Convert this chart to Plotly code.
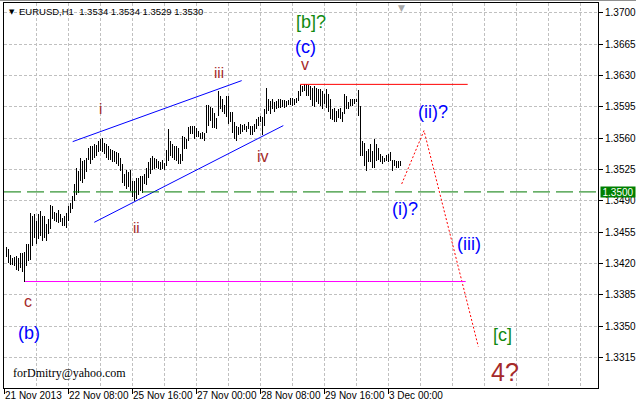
import numpy as np
import plotly.graph_objects as go

# ---------------- data (EURUSD H1) ----------------
highs = [
    1.3439, 1.3436, 1.3430, 1.3426, 1.3427, 1.3429, 1.3426, 1.3432, 1.3432, 1.3433,
    1.3442, 1.3442, 1.3476, 1.3473, 1.3475, 1.3468, 1.3475, 1.3479, 1.3473, 1.3473,
    1.3464, 1.3470, 1.3485, 1.3484, 1.3478, 1.3476, 1.3480, 1.3475, 1.3471, 1.3473,
    1.3477, 1.3484, 1.3488, 1.3496, 1.3509, 1.3527, 1.3523, 1.3538, 1.3535, 1.3536,
    1.3538, 1.3549, 1.3551, 1.3551, 1.3553, 1.3552, 1.3557, 1.3559, 1.3560, 1.3555,
    1.3553, 1.3551, 1.3548, 1.3547, 1.3546, 1.3544, 1.3543, 1.3538, 1.3531, 1.3520,
    1.3525, 1.3522, 1.3525, 1.3512, 1.3512, 1.3516, 1.3515, 1.3518, 1.3518, 1.3520,
    1.3527, 1.3533, 1.3538, 1.3540, 1.3538, 1.3537, 1.3534, 1.3533, 1.3536, 1.3532,
    1.3547, 1.3570, 1.3557, 1.3553, 1.3551, 1.3551, 1.3549, 1.3542, 1.3562, 1.3561,
    1.3559, 1.3572, 1.3574, 1.3574, 1.3574, 1.3571, 1.3568, 1.3566, 1.3567, 1.3566,
    1.3597, 1.3597, 1.3595, 1.3594, 1.3588, 1.3583, 1.3613, 1.3607, 1.3604, 1.3597,
    1.3607, 1.3607, 1.3589, 1.3589, 1.3578, 1.3574, 1.3572, 1.3576, 1.3575, 1.3576,
    1.3574, 1.3578, 1.3574, 1.3574, 1.3576, 1.3581, 1.3584, 1.3585, 1.3584, 1.3592,
    1.3616, 1.3604, 1.3601, 1.3604, 1.3600, 1.3601, 1.3604, 1.3604, 1.3603, 1.3603,
    1.3601, 1.3603, 1.3605, 1.3605, 1.3604, 1.3605, 1.3613, 1.3619, 1.3618, 1.3620,
    1.3620, 1.3619, 1.3618, 1.3616, 1.3618, 1.3616, 1.3615, 1.3615, 1.3613, 1.3609,
    1.3615, 1.3609, 1.3604, 1.3592, 1.3594, 1.3590, 1.3592, 1.3594, 1.3589, 1.3609,
    1.3607, 1.3600, 1.3604, 1.3604, 1.3604, 1.3604, 1.3614, 1.3596, 1.3557, 1.3555,
    1.3546, 1.3548, 1.3553, 1.3546, 1.3559, 1.3553, 1.3549, 1.3542, 1.3540, 1.3538,
    1.3541, 1.3542, 1.3544, 1.3536, 1.3536, 1.3535, 1.3535, 1.3534,
]
lows = [
    1.3427, 1.3421, 1.3419, 1.3419, 1.3417, 1.3413, 1.3412, 1.3415, 1.3411, 1.3400,
    1.3417, 1.3423, 1.3424, 1.3440, 1.3449, 1.3442, 1.3447, 1.3451, 1.3445, 1.3449,
    1.3445, 1.3453, 1.3459, 1.3470, 1.3468, 1.3466, 1.3465, 1.3466, 1.3462, 1.3462,
    1.3460, 1.3468, 1.3476, 1.3481, 1.3490, 1.3497, 1.3499, 1.3512, 1.3510, 1.3514,
    1.3522, 1.3536, 1.3531, 1.3536, 1.3538, 1.3540, 1.3544, 1.3546, 1.3545, 1.3542,
    1.3538, 1.3536, 1.3536, 1.3533, 1.3533, 1.3531, 1.3529, 1.3523, 1.3510, 1.3507,
    1.3503, 1.3505, 1.3501, 1.3494, 1.3490, 1.3492, 1.3497, 1.3501, 1.3499, 1.3509,
    1.3508, 1.3515, 1.3520, 1.3524, 1.3526, 1.3527, 1.3526, 1.3525, 1.3526, 1.3525,
    1.3529, 1.3535, 1.3540, 1.3538, 1.3536, 1.3535, 1.3531, 1.3531, 1.3535, 1.3548,
    1.3548, 1.3557, 1.3565, 1.3565, 1.3559, 1.3561, 1.3561, 1.3559, 1.3559, 1.3557,
    1.3566, 1.3574, 1.3579, 1.3571, 1.3571, 1.3570, 1.3585, 1.3593, 1.3589, 1.3587,
    1.3584, 1.3576, 1.3578, 1.3566, 1.3559, 1.3557, 1.3563, 1.3565, 1.3567, 1.3569,
    1.3567, 1.3570, 1.3563, 1.3563, 1.3567, 1.3570, 1.3574, 1.3578, 1.3564, 1.3574,
    1.3587, 1.3590, 1.3587, 1.3592, 1.3589, 1.3592, 1.3594, 1.3594, 1.3595, 1.3594,
    1.3595, 1.3597, 1.3597, 1.3596, 1.3597, 1.3599, 1.3601, 1.3607, 1.3612, 1.3613,
    1.3607, 1.3607, 1.3603, 1.3596, 1.3595, 1.3600, 1.3598, 1.3596, 1.3593, 1.3598,
    1.3594, 1.3589, 1.3581, 1.3580, 1.3578, 1.3578, 1.3583, 1.3581, 1.3578, 1.3587,
    1.3592, 1.3592, 1.3596, 1.3596, 1.3598, 1.3600, 1.3585, 1.3540, 1.3540, 1.3529,
    1.3523, 1.3533, 1.3533, 1.3527, 1.3527, 1.3535, 1.3536, 1.3533, 1.3531, 1.3533,
    1.3535, 1.3533, 1.3535, 1.3523, 1.3529, 1.3527, 1.3527, 1.3529,
]
bar_index = list(range(1, len(highs) + 1))

time_tick_index = [0, 32, 64, 96, 128, 160, 192]
time_tick_labels = ["21 Nov 2013", "22 Nov 08:00", "25 Nov 16:00", "27 Nov 00:00",
                    "28 Nov 08:00", "29 Nov 16:00", "3 Dec 00:00"]
price_ticks = [1.3315, 1.3350, 1.3385, 1.3420, 1.3455, 1.3490, 1.3525,
               1.3560, 1.3595, 1.3630, 1.3665, 1.3700]
current_level = 1.3500
header_text = "EURUSD,H1  1.3534 1.3534 1.3529 1.3530"

# analyst drawings (bar index, price)
upper_channel_x = [34.1, 118.6]
upper_channel_y = [1.35561, 1.36242]
lower_channel_x = [44.9, 139.4]
lower_channel_y = [1.34661, 1.35740]
resistance_x = [147.8, 231.6]
resistance_level = 1.3620
support_x = [10.3, 230.6]
support_level = 1.3400
forecast_x = [198.6, 209.75, 236.9]
forecast_y = [1.35089, 1.35684, 1.33274]

BLUE = "#0000FF"
BROWN = "#A52A2A"
GREEN = "#118A11"
wave_labels = [
    ("[b]?", 153.0, 1.36892, GREEN, 18),
    ("(c)", 150.5, 1.36621, BLUE, 18),
    ("v", 150.0, 1.36420, BROWN, 16),
    ("iii", 107.0, 1.36331, BROWN, 15),
    ("i", 48.0, 1.35935, BROWN, 15),
    ("ii", 66.0, 1.34607, BROWN, 15),
    ("iv", 129.25, 1.35390, BROWN, 16),
    ("c", 11.5, 1.33780, BROWN, 16),
    ("(b)", 12.0, 1.33424, BLUE, 18),
    ("(ii)?", 214.0, 1.35891, BLUE, 18),
    ("(i)?", 200.0, 1.34808, BLUE, 18),
    ("(iii)", 232.25, 1.34423, BLUE, 18),
    ("[c]", 249.0, 1.33408, GREEN, 18),
    ("4?", 250.25, 1.32995, BROWN, 25),
]

# ---------------- figure ----------------
FONT = "Liberation Sans, Arial, sans-serif"
GRID = "#C0C0C0"

hi = np.array(highs)
lo = np.array(lows)

fig = go.Figure()
fig.add_trace(go.Bar(
    x=bar_index, y=hi - lo, base=lows, width=0.5,
    marker=dict(color="black", line=dict(width=0)),
    hoverinfo="skip",
))

fig.add_trace(go.Scatter(
    x=forecast_x, y=forecast_y, mode="lines",
    line=dict(color="#FF0000", width=1, dash="2px,2px"),
    hoverinfo="skip",
))

shapes = [
    dict(type="line", xref="x", yref="y", x0=upper_channel_x[0], x1=upper_channel_x[1],
         y0=upper_channel_y[0], y1=upper_channel_y[1], line=dict(color=BLUE, width=1)),
    dict(type="line", xref="x", yref="y", x0=lower_channel_x[0], x1=lower_channel_x[1],
         y0=lower_channel_y[0], y1=lower_channel_y[1], line=dict(color=BLUE, width=1)),
    dict(type="line", xref="x", yref="y", x0=resistance_x[0], x1=resistance_x[1],
         y0=resistance_level, y1=resistance_level, line=dict(color="#FF0000", width=1)),
    dict(type="line", xref="x", yref="y", x0=support_x[0], x1=support_x[1],
         y0=support_level, y1=support_level, line=dict(color="#FF00FF", width=1)),
    dict(type="line", xref="paper", yref="y", x0=0, x1=1,
         y0=current_level, y1=current_level,
         line=dict(color="#007800", width=1, dash="17px,6px")),
    # window frame line
    dict(type="line", xref="paper", yref="paper", x0=-4 / 594, x1=632 / 594,
         y0=1 + 2.5 / 385, y1=1 + 2.5 / 385, line=dict(color="#909090", width=1)),
]

annotations = []
for txt, xi, yp, col, sz in wave_labels:
    annotations.append(dict(x=xi, y=yp, xref="x", yref="y", text=txt, showarrow=False,
                            font=dict(family=FONT, size=sz, color=col),
                            xanchor="center", yanchor="middle"))

for xi, lab in zip(time_tick_index, time_tick_labels):
    annotations.append(dict(x=xi, y=0, xref="x", yref="paper", text=lab, showarrow=False,
                            font=dict(family=FONT, size=10, color="black"),
                            xanchor="left", yanchor="top", xshift=-2, yshift=0))

annotations.append(dict(x=1, y=current_level, xref="paper", yref="y",
                        text=f"{current_level:.4f}", showarrow=False,
                        font=dict(family=FONT, size=10, color="white"),
                        bgcolor="#008000", xanchor="left", yanchor="middle",
                        xshift=2, borderpad=0, height=10, width=34))

annotations.append(dict(x=0, y=1, xref="paper", yref="paper", text="\u25BC",
                        showarrow=False, font=dict(family="DejaVu Sans", size=7, color="black"),
                        xanchor="left", yanchor="top", xshift=3, yshift=-3))
annotations.append(dict(x=0, y=1, xref="paper", yref="paper", text=header_text,
                        showarrow=False, font=dict(family=FONT, size=9.5, color="black"),
                        xanchor="left", yanchor="top", xshift=13, yshift=-1))
annotations.append(dict(x=3, y=1.32978, xref="x", yref="y", text="forDmitry@yahoo.com",
                        showarrow=False,
                        font=dict(family="Liberation Serif, Times New Roman, serif", size=12,
                                  color="black"),
                        xanchor="left", yanchor="middle"))
annotations.append(dict(x=198.5, y=1, xref="x", yref="paper", text="\u25BC",
                        showarrow=False, font=dict(family="DejaVu Sans", size=9, color="#A8A8A8"),
                        xanchor="center", yanchor="top", yshift=2))

fig.update_layout(
    width=636, height=404,
    margin=dict(l=4, r=38, t=3, b=16, pad=0),
    paper_bgcolor="white", plot_bgcolor="white",
    showlegend=False, bargap=0,
    shapes=shapes, annotations=annotations,
    xaxis=dict(
        range=[-0.25, 296.75], tickmode="array", tickvals=time_tick_index,
        showticklabels=False, ticks="outside", ticklen=5, tickcolor="black",
        showgrid=True, gridcolor=GRID, griddash="3px,2px", gridwidth=1,
        minor=dict(dtick=16, tick0=0, showgrid=True, gridcolor=GRID,
                   griddash="3px,2px", gridwidth=1, ticks=""),
        showline=True, mirror=True, linecolor="black", linewidth=1,
        zeroline=False, automargin=False, fixedrange=True,
    ),
    yaxis=dict(
        side="right", range=[1.32812, 1.37108], tickmode="array",
        tickvals=price_ticks, ticktext=[f"{v:.4f}" for v in price_ticks],
        ticks="outside", ticklen=4, tickcolor="black",
        tickfont=dict(family=FONT, size=10, color="black"),
        showgrid=True, gridcolor=GRID, griddash="3px,2px", gridwidth=1,
        showline=True, mirror=True, linecolor="black", linewidth=1,
        zeroline=False, automargin=False, fixedrange=True,
    ),
)

fig.write_html(
    "out.html",
    config={"displayModeBar": False, "staticPlot": True},
    post_script="document.body.style.margin='0';document.body.style.overflow='hidden';",
)
